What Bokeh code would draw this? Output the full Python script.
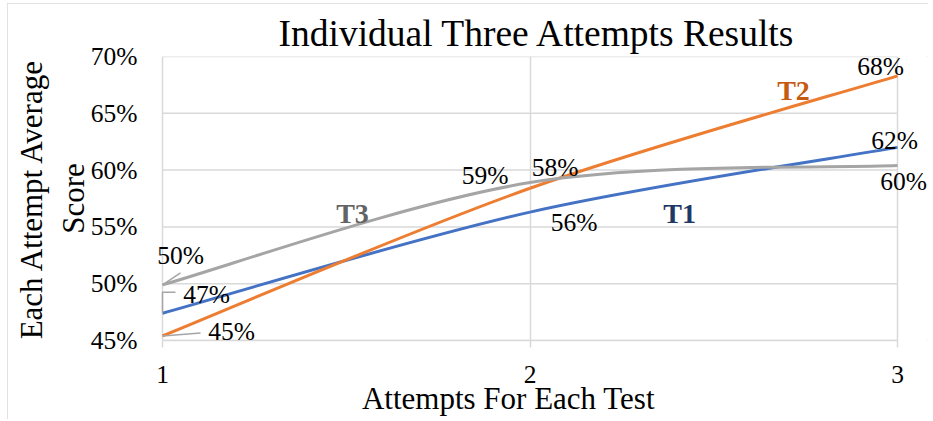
from bokeh.plotting import figure
from bokeh.models import Range1d, FixedTicker, PrintfTickFormatter, Label
from bokeh.embed import file_html
from bokeh.resources import INLINE

# ---- data ----
attempts = [1, 2, 3]
series_names = ["T1", "T2", "T3"]
t1_values = [47.4, 56.3, 62.0]
t2_values = [45.4, 58.4, 68.3]
t3_values = [49.9, 58.9, 60.4]
t1_labels = ["47%", "56%", "62%"]
t2_labels = ["45%", "58%", "68%"]
t3_labels = ["50%", "59%", "60%"]
y_ticks = [45, 50, 55, 60, 65, 70]
x_ticks = [1, 2, 3]

TITLE = "Individual Three Attempts Results"
X_TITLE = "Attempts For Each Test"
Y_TITLE = "Each Attempt Average\nScore"

FONT = "Liberation Serif"
colors = {"T1": "#4472C4", "T2": "#ED7D31", "T3": "#A5A5A5"}
name_colors = {"T1": "#1F3864", "T2": "#C55A11", "T3": "#636363"}

# label offsets in px (dx right, dy up) relative to the data point
label_offsets = {
    "T1": [(44, 19), (44, -10), (-3, 7)],
    "T2": [(69, 4), (25, 21), (-17, 9)],
    "T3": [(18, 29), (-45, 7), (6, -16)],
}
# series name positions (data coords)
name_pos = {"T1": (2.407, 56.2), "T2": (2.717, 67.0), "T3": (1.517, 56.2)}

# plot-area geometry (px); the frame is widened a little so data labels
# next to the first and last attempt are not cut off
AREA_W, AREA_H = 735.0, 284.0
PAD_L, PAD_R = 12, 31
XS = AREA_W / (x_ticks[-1] - x_ticks[0])
YS = AREA_H / (y_ticks[-1] - y_ticks[0])
x_start = x_ticks[0] - PAD_L / XS
x_end = x_ticks[-1] + PAD_R / XS

p = figure(width=921, height=416, x_range=Range1d(x_start, x_end), y_range=Range1d(45, 70),
           output_backend="svg", toolbar_location=None,
           min_border_left=155 - PAD_L, min_border_right=0, min_border_top=53, min_border_bottom=79)
p.margin = (3, 0, 0, 7)
p.styles = {"outline": "2px solid #d9d9d9", "outline-offset": "-2px"}
p.outline_line_color = None
p.background_fill_color = "white"
p.border_fill_color = "white"

p.title.text = TITLE
p.title.align = "left"
p.title.offset = 128
p.title.text_font = FONT
p.title.text_font_size = "37.5px"
p.title.text_font_style = "normal"
p.title.text_color = "black"
p.title.standoff = 5

grid_col = "#d9d9d9"
p.xgrid.ticker = FixedTicker(ticks=x_ticks)
p.xgrid.grid_line_color = grid_col
p.xgrid.grid_line_width = 1.5
p.ygrid.visible = False
# horizontal grid lines limited to the attempts span
p.segment(x0=[x_ticks[0]] * len(y_ticks), x1=[x_ticks[-1]] * len(y_ticks),
          y0=y_ticks, y1=y_ticks, line_color=grid_col, line_width=1.5)

p.xaxis.ticker = FixedTicker(ticks=x_ticks)
p.xaxis.bounds = (x_ticks[0], x_ticks[-1])
p.xaxis.axis_line_color = grid_col
p.xaxis.axis_line_width = 1.5
p.xaxis.major_tick_line_color = grid_col
p.xaxis.major_tick_line_width = 1.5
p.xaxis.major_tick_out = 7
p.xaxis.major_tick_in = 0
p.xaxis.minor_tick_line_color = None
p.xaxis.major_label_standoff = 18
# trailing no-break spaces shift the centred title left, as in the original
p.xaxis.axis_label = X_TITLE + "\u00a0" * 8
p.xaxis.axis_label_standoff = -5

p.yaxis.ticker = FixedTicker(ticks=y_ticks)
p.yaxis.formatter = PrintfTickFormatter(format="%d%%")
p.yaxis.axis_line_color = None
p.yaxis.major_tick_line_color = None
p.yaxis.minor_tick_line_color = None
p.yaxis.major_tick_out = 0
p.yaxis.major_label_standoff = 25 - PAD_L
p.yaxis.axis_label = Y_TITLE
p.yaxis.axis_label_standoff = -3

for ax in (p.xaxis, p.yaxis):
    ax.major_label_text_font = FONT
    ax.major_label_text_font_size = "25.5px"
    ax.major_label_text_color = "black"
    ax.axis_label_text_font = FONT
    ax.axis_label_text_font_size = "31px"
    ax.axis_label_text_font_style = "normal"
    ax.axis_label_text_color = "black"


def smooth(xs, ys):
    # Catmull-Rom style control points (like a spreadsheet "smoothed line")
    n = len(xs)
    segs = dict(x0=[], y0=[], x1=[], y1=[], cx0=[], cy0=[], cx1=[], cy1=[])
    for i in range(n - 1):
        pxm, pym = (xs[i - 1], ys[i - 1]) if i > 0 else (xs[i], ys[i])
        pxn, pyn = (xs[i + 2], ys[i + 2]) if i + 2 < n else (xs[i + 1], ys[i + 1])
        segs["x0"].append(xs[i]); segs["y0"].append(ys[i])
        segs["x1"].append(xs[i + 1]); segs["y1"].append(ys[i + 1])
        segs["cx0"].append(xs[i] + (xs[i + 1] - pxm) / 6.0)
        segs["cy0"].append(ys[i] + (ys[i + 1] - pym) / 6.0)
        segs["cx1"].append(xs[i + 1] - (pxn - xs[i]) / 6.0)
        segs["cy1"].append(ys[i + 1] - (pyn - ys[i]) / 6.0)
    return segs


values = {"T1": t1_values, "T2": t2_values, "T3": t3_values}
labels = {"T1": t1_labels, "T2": t2_labels, "T3": t3_labels}

for name in series_names:
    p.bezier(line_color=colors[name], line_width=3, **smooth(attempts, values[name]))

# leader lines near x = 1 (px offsets converted to data units)
lead_col = "#a6a6a6"
leaders = [
    ("T3", [(0, 0), (18, 12)]),
    ("T1", [(0, 0), (0, 21), (13, 21)]),
    ("T2", [(0, 0), (38, 3)]),
]
for name, pts in leaders:
    x0, y0 = attempts[0], values[name][0]
    p.line([x0 + dx / XS for dx, dy in pts], [y0 + dy / YS for dx, dy in pts],
           line_color=lead_col, line_width=1.5)

for name in series_names:
    for xv, yv, txt, (dx, dy) in zip(attempts, values[name], labels[name], label_offsets[name]):
        p.add_layout(Label(x=xv, y=yv, x_offset=dx, y_offset=dy, text=txt,
                           text_align="center", text_baseline="middle",
                           text_font=FONT, text_font_size="25.5px", text_color="black"))
    nx, ny = name_pos[name]
    p.add_layout(Label(x=nx, y=ny, text=name, text_align="center", text_baseline="middle",
                       text_font=FONT, text_font_size="28px", text_font_style="bold",
                       text_color=name_colors[name]))

open("out.html", "w").write(file_html(p, INLINE))
